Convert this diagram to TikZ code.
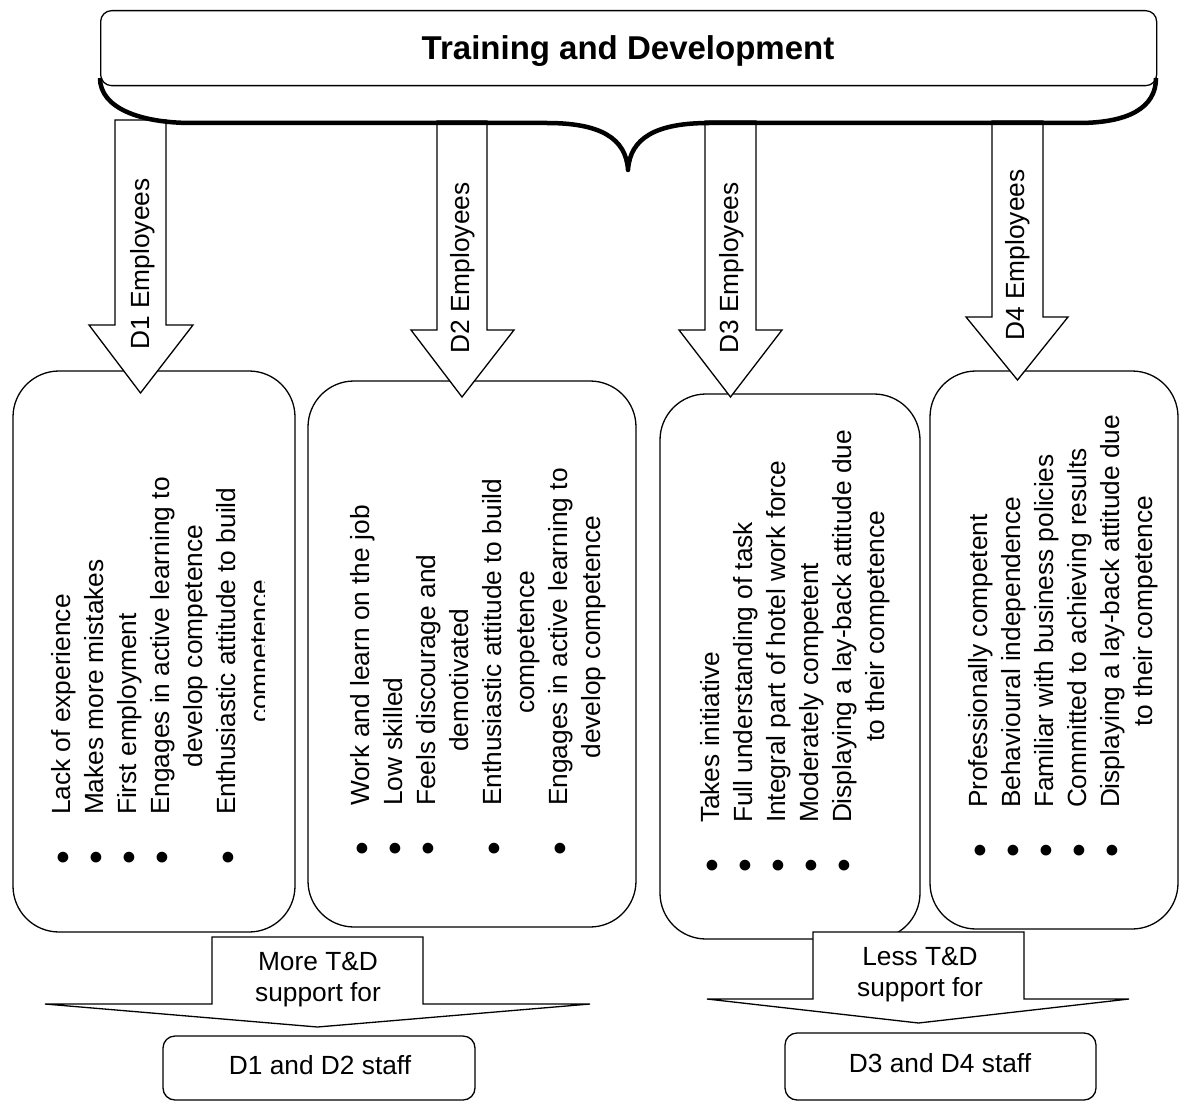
\documentclass[tikz,border=0pt]{standalone}
\usepackage{fontspec}
\setmainfont{Liberation Sans}
% a two-line list entry: the wrapped line is centred under the first one
\newcommand{\wrapitem}[2]{\begin{tabular}[t]{@{}c@{}}#1\\#2\end{tabular}}
\newcommand{\dotmark}{\raisebox{-6pt}{\scalebox{1.5}{\textbullet}}}
% downward block arrow: shaft left/right, shaft top, head base, head left/right, tip
\newcommand{\blockdown}[7]{%
  \draw[blockarrow] (#1,#3) -- (#1,#4) -- (#5,#4) -- ({(#1+#2)/2},#7)
    -- (#6,#4) -- (#2,#4) -- (#2,#3) -- cycle;}
\begin{document}
\begin{tikzpicture}[x=1pt,y=-1pt,
  line/.style={draw=black,line width=1.3pt},
  panel/.style={line,fill=white,rounded corners=46pt,inner sep=0pt,outer sep=0pt,anchor=north west},
  tag/.style={line,fill=white,rounded corners=12pt,inner sep=0pt,outer sep=0pt,anchor=north west},
  blockarrow/.style={line,fill=white,line join=miter},
  body/.style={font=\fontsize{26.3}{33}\selectfont,inner sep=0pt},
  listtext/.style={body,rotate=90,anchor=base west},
  armlabel/.style={body,rotate=90},
  support/.style={font=\fontsize{26.3}{31}\selectfont,inner sep=0pt,align=center}]

\useasboundingbox (0,0) rectangle (1182,1102);

% heading banner
\node[line,rounded corners=11pt,inner sep=0pt,anchor=north west,
      minimum width=1056pt,minimum height=75pt] (banner) at (100,10) {};
\node[font=\fontsize{33}{40}\selectfont\bfseries,anchor=base,inner sep=0pt] (title) at (628,60) {Training and Development};

% the four employee panels
\node[panel,minimum width=282pt,minimum height=561pt] (p1) at (13,371) {};
\node[panel,minimum width=328pt,minimum height=546pt] (p2) at (308,381) {};
\node[panel,minimum width=260pt,minimum height=545pt] (p3) at (660,394) {};
\node[panel,minimum width=248pt,minimum height=558pt] (p4) at (930,371) {};

% arrows from the banner to the panels
\blockdown{115}{166}{120}{325}{89}{193}{393}
\blockdown{437}{487}{121}{330}{411}{514}{397}
\blockdown{705}{756}{121}{330}{679}{782}{397}
\blockdown{992}{1043}{121}{317}{966}{1068}{380}

% curly brace under the banner
\draw[line width=4.5pt,line join=round,line cap=butt]
  (100,78) .. controls (100,108) and (140,123) .. (192,123) -- (547,123)
  .. controls (600,123) and (626,138) .. (628,170)
  .. controls (630,138) and (656,123) .. (709,123) -- (1078,123)
  .. controls (1128,123) and (1156,108) .. (1156,78);

\node[armlabel] (a1) at (143,264) {D1 Employees};
\node[armlabel] (a2) at (463,268) {D2 Employees};
\node[armlabel] (a3) at (732,268) {D3 Employees};
\node[armlabel] (a4) at (1018,255) {D4 Employees};

% panel contents
\begin{scope}
\clip (13,371) rectangle (264,932);
\node[listtext] (l1) at (70,865) {\begin{tabular}[t]{@{}r@{\hspace{36pt}}l@{}}
\dotmark & Lack of experience\\
\dotmark & Makes more mistakes\\
\dotmark & First employment\\
\dotmark & \wrapitem{Engages in active learning to}{develop competence}\\
\dotmark & \wrapitem{Enthusiastic attitude to build}{competence}
\end{tabular}};
\end{scope}

\node[listtext] (l2) at (369,856) {\begin{tabular}[t]{@{}r@{\hspace{36pt}}l@{}}
\dotmark & Work and learn on the job\\
\dotmark & Low skilled\\
\dotmark & \wrapitem{Feels discourage and}{demotivated}\\
\dotmark & \wrapitem{Enthusiastic attitude to build}{competence}\\
\dotmark & \wrapitem{Engages in active learning to}{develop competence}
\end{tabular}};

\node[listtext] (l3) at (719,873) {\begin{tabular}[t]{@{}r@{\hspace{36pt}}l@{}}
\dotmark & Takes initiative\\
\dotmark & Full understanding of task\\
\dotmark & Integral part of hotel work force\\
\dotmark & Moderately competent\\
\dotmark & \wrapitem{Displaying a lay-back attitude due}{to their competence}
\end{tabular}};

\node[listtext] (l4) at (987,858) {\begin{tabular}[t]{@{}r@{\hspace{36pt}}l@{}}
\dotmark & Professionally competent\\
\dotmark & Behavioural independence\\
\dotmark & Familiar with business policies\\
\dotmark & Committed to achieving results\\
\dotmark & \wrapitem{Displaying a lay-back attitude due}{to their competence}
\end{tabular}};

% support arrows and target groups
\blockdown{212}{423}{937}{1004}{45}{590}{1027}
\blockdown{813}{1024}{932}{999}{707}{1129}{1023}

\node[support] (more) at (318,980) {More T\&D\\support for};
\node[support] (less) at (920,975) {Less T\&D\\support for};

\node[tag,minimum width=312pt,minimum height=64pt] (s12) at (163,1036) {};
\node[tag,minimum width=311pt,minimum height=67pt] (s34) at (785,1033) {};
\node[body,anchor=base] (s12t) at (320,1074) {D1 and D2 staff};
\node[body,anchor=base] (s34t) at (940,1072) {D3 and D4 staff};
\end{tikzpicture}
\end{document}
